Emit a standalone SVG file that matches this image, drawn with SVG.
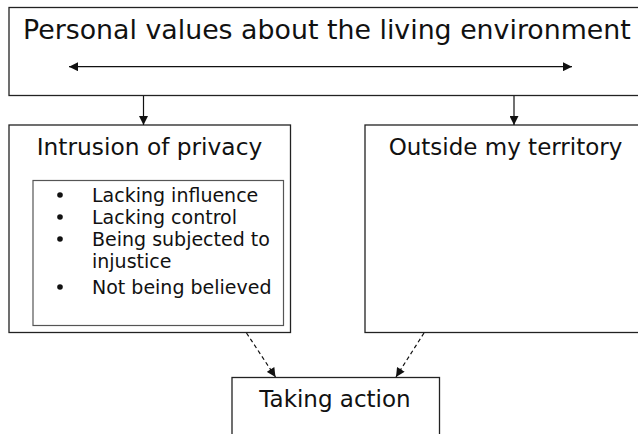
<svg xmlns="http://www.w3.org/2000/svg" width="638" height="434" viewBox="0 0 638 434">
  <style>
    .box { fill: #ffffff; stroke: #222222; stroke-width: 1.3; }
    .inner { fill: #ffffff; stroke: #555555; stroke-width: 1.2; }
    .title { font-family: "DejaVu Sans", Verdana, sans-serif; fill: #111111; }
    .item { font-family: "DejaVu Sans", Verdana, sans-serif; font-size: 19px; fill: #111111; }
    .line { fill: none; stroke: #111111; stroke-width: 1.2; }
    .dash { fill: none; stroke: #111111; stroke-width: 1.2; stroke-dasharray: 4 3; }
  </style>
  <defs>
    <marker id="head" viewBox="0 0 10 10" refX="10" refY="5" markerWidth="10" markerHeight="9" markerUnits="userSpaceOnUse" orient="auto-start-reverse">
      <path d="M0,0 L10,5 L0,10 Z" fill="#111111"/>
    </marker>
  </defs>

  <rect width="638" height="434" fill="#ffffff"/>

  <!-- top: personal values -->
  <g id="values">
    <rect class="box" x="9" y="7.5" width="640" height="88"/>
    <text class="title" x="23" y="39" font-size="26.8">Personal values about the living environment</text>
  </g>

  <!-- left: intrusion of privacy -->
  <g id="intrusion">
    <rect class="box" x="9" y="125" width="281.5" height="207.5"/>
    <text class="title" x="149.5" y="155" font-size="23.3" text-anchor="middle">Intrusion of privacy</text>
    <rect class="inner" x="33" y="180.5" width="250.5" height="145"/>
    <g class="item">
      <circle cx="60" cy="195" r="2.8" fill="#111111"/>
      <circle cx="60" cy="217" r="2.8" fill="#111111"/>
      <circle cx="60" cy="239" r="2.8" fill="#111111"/>
      <circle cx="60" cy="287" r="2.8" fill="#111111"/>
      <text x="92" y="202">Lacking influence</text>
      <text x="92" y="224">Lacking control</text>
      <text x="92" y="246">Being subjected to</text>
      <text x="92" y="268">injustice</text>
      <text x="92" y="294">Not being believed</text>
    </g>
  </g>

  <!-- right: outside my territory -->
  <g id="territory">
    <rect class="box" x="365" y="125" width="290" height="207.5"/>
    <text class="title" x="505.5" y="155" font-size="23" text-anchor="middle">Outside my territory</text>
  </g>

  <!-- bottom: taking action -->
  <g id="action">
    <rect class="box" x="232" y="377.5" width="207.5" height="70"/>
    <text class="title" x="335" y="406.5" font-size="23" text-anchor="middle">Taking action</text>
  </g>

  <!-- connectors -->
  <g id="connectors">
    <line class="line" x1="69" y1="66.7" x2="572" y2="66.7" marker-start="url(#head)" marker-end="url(#head)"/>
    <line class="line" x1="143.5" y1="96" x2="143.5" y2="125" marker-end="url(#head)"/>
    <line class="line" x1="514" y1="96" x2="514" y2="125" marker-end="url(#head)"/>
    <line class="dash" x1="246.5" y1="333" x2="275.5" y2="377" marker-end="url(#head)"/>
    <line class="dash" x1="424" y1="333" x2="396" y2="377" marker-end="url(#head)"/>
  </g>
</svg>
